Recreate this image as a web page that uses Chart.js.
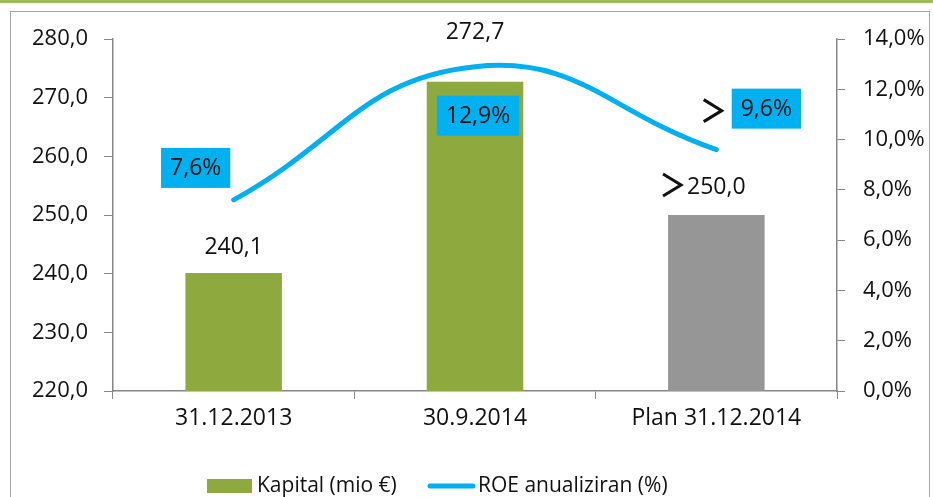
<!DOCTYPE html>
<html>
<head>
<meta charset="utf-8">
<script src="https://cdn.jsdelivr.net/npm/chart.js@4.4.1/dist/chart.umd.min.js"></script>
<style>
    html, body { margin: 0; padding: 0; background: #fff; }
    #wrap { position: relative; width: 933px; height: 497px; overflow: hidden; }
    #topLine { position: absolute; left: 0; top: 0; width: 933px; height: 3px; background: #9bbb59; }
    #frame { position: absolute; left: 10px; top: 11px; width: 920px; height: 500px; border: 1px solid #a6a6a6; box-sizing: border-box; }
    canvas { position: absolute; left: 0; top: 0; }
</style>
</head>
<body>
<div id="wrap">
    <div id="topLine"></div>
    <div id="frame"></div>
    <canvas id="capitalChart" width="933" height="497"></canvas>
</div>
<script>
// chart data
const categories = ['31.12.2013', '30.9.2014', 'Plan 31.12.2014'];
const capital = [240.1, 272.7, 250.0];
const roe = [7.6, 12.9, 9.6];
const prefixes = ['', '', '>'];
const capitalTicks = [220, 230, 240, 250, 260, 270, 280];
const roeTicks = [0, 2, 4, 6, 8, 10, 12, 14];

const FONT = "'Open Sans', 'Liberation Sans', sans-serif";
const GREEN = '#8ea93d';
const GREY = '#969696';
const BLUE = '#00b0f0';
const AXIS = '#868686';

function fmt(v, digits) {
    return v.toFixed(digits).replace('.', ',');
}

// big ">" marker in front of plan values
function drawChevron(ctx, right, cy) {
    ctx.save();
    ctx.strokeStyle = '#111';
    ctx.lineWidth = 3;
    ctx.lineJoin = 'miter';
    ctx.beginPath();
    ctx.moveTo(right - 18, cy - 11);
    ctx.lineTo(right, cy);
    ctx.lineTo(right - 18, cy + 11);
    ctx.stroke();
    ctx.restore();
}

// value labels: bar values above bars, ROE values in blue boxes
const labelPlugin = {
    id: 'valueLabels',
    afterDatasetsDraw(chart) {
        const ctx = chart.ctx;
        const bars = chart.getDatasetMeta(0).data;
        const points = chart.getDatasetMeta(1).data;
        const barOffsets = [26, 49, 28];
        const boxOffsets = [[-38, -32], [3, 49], [50, -41]];

        ctx.save();
        ctx.textBaseline = 'middle';
        ctx.fillStyle = '#111';

        bars.forEach((bar, i) => {
            const y = bar.y - barOffsets[i];
            const text = fmt(capital[i], 1);
            ctx.font = `23px ${FONT}`;
            ctx.textAlign = 'center';
            ctx.fillText(text, bar.x, y);
            if (prefixes[i]) {
                const w = ctx.measureText(text).width;
                drawChevron(ctx, bar.x - w / 2 - 6, y - 2);
            }
        });

        points.forEach((pt, i) => {
            const cx = pt.x + boxOffsets[i][0];
            const cy = pt.y + boxOffsets[i][1];
            const text = fmt(roe[i], 1) + '%';
            ctx.font = `23px ${FONT}`;
            const w = ctx.measureText(text).width + 18;
            const h = 40;
            ctx.fillStyle = BLUE;
            ctx.fillRect(cx - w / 2, cy - h / 2, w, h);
            ctx.fillStyle = '#111';
            ctx.textAlign = 'center';
            ctx.fillText(text, cx, cy + 1);
            if (prefixes[i]) {
                drawChevron(ctx, cx - w / 2 - 10, cy + 2);
            }
        });
        ctx.restore();
    }
};

// legend drawn at the bottom
const legendPlugin = {
    id: 'bottomLegend',
    afterDraw(chart) {
        const ctx = chart.ctx;
        const y = 486;
        ctx.save();
        ctx.font = `21px ${FONT}`;
        ctx.textBaseline = 'middle';
        ctx.textAlign = 'left';

        ctx.fillStyle = GREEN;
        ctx.fillRect(207, y - 7, 45, 14);
        ctx.fillStyle = '#111';
        ctx.fillText(chart.data.datasets[0].label, 257, y);

        ctx.strokeStyle = BLUE;
        ctx.lineWidth = 5;
        ctx.lineCap = 'round';
        ctx.beginPath();
        ctx.moveTo(430, y);
        ctx.lineTo(473, y);
        ctx.stroke();
        ctx.fillText(chart.data.datasets[1].label, 478, y);
        ctx.restore();
    }
};

new Chart(document.getElementById('capitalChart'), {
    data: {
        labels: categories,
        datasets: [
            {
                type: 'bar',
                label: 'Kapital (mio €)',
                data: capital,
                yAxisID: 'y',
                backgroundColor: [GREEN, GREEN, GREY],
                categoryPercentage: 1,
                barPercentage: 0.4,
                order: 2
            },
            {
                type: 'line',
                label: 'ROE anualiziran (%)',
                data: roe,
                yAxisID: 'y1',
                borderColor: BLUE,
                borderWidth: 5,
                borderCapStyle: 'round',
                pointRadius: 0,
                tension: 0.45,
                clip: false,
                order: 1
            }
        ]
    },
    options: {
        responsive: false,
        animation: false,
        layout: {
            padding: { top: 39, left: 0, right: 0, bottom: 0 }
        },
        plugins: {
            legend: { display: false },
            tooltip: { enabled: false }
        },
        scales: {
            x: {
                offset: true,
                grid: {
                    offset: true,
                    drawOnChartArea: false,
                    tickLength: 8,
                    color: AXIS
                },
                border: { color: AXIS, width: 1.5 },
                ticks: {
                    color: '#111',
                    padding: 6,
                    font: { family: FONT, size: 23 }
                },
                afterFit(scale) { scale.height = 106; }
            },
            y: {
                position: 'left',
                min: 220,
                max: 280,
                afterBuildTicks(scale) { scale.ticks = capitalTicks.map(v => ({ value: v })); },
                grid: { drawOnChartArea: false, tickLength: 9, color: AXIS },
                border: { color: AXIS, width: 1.5 },
                ticks: {
                    color: '#111',
                    padding: 16,
                    font: { family: FONT, size: 22 },
                    callback: v => fmt(v, 1)
                },
                afterFit(scale) { scale.width = 113; }
            },
            y1: {
                position: 'right',
                min: 0,
                max: 14,
                afterBuildTicks(scale) { scale.ticks = roeTicks.map(v => ({ value: v })); },
                grid: { drawOnChartArea: false, tickLength: 8, color: AXIS },
                border: { color: AXIS, width: 1.5 },
                ticks: {
                    color: '#111',
                    padding: 18,
                    font: { family: FONT, size: 22 },
                    callback: v => fmt(v, 1) + '%'
                },
                afterFit(scale) { scale.width = 96; }
            }
        }
    },
    plugins: [labelPlugin, legendPlugin]
});
</script>
</body>
</html>
